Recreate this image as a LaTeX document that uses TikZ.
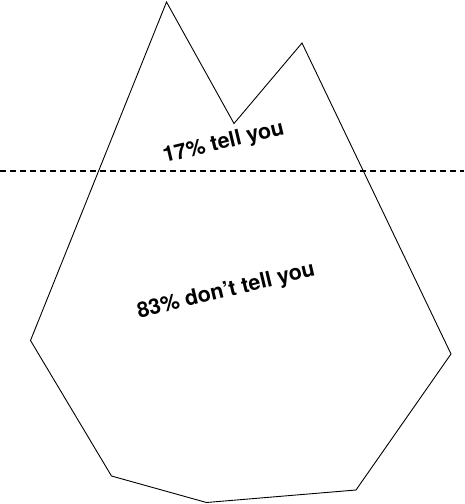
\documentclass[tikz,border=0pt]{standalone}
\usepackage{fontspec}
\setmainfont{TeX Gyre Heros}
\usepackage{tikz}
\tikzset{
  berg/.style={line width=0.9pt, black, line join=miter},
  water/.style={line width=1.1pt, black, dash pattern=on 6pt off 4pt},
  lbl/.style={font=\bfseries\fontsize{21.5}{24}\selectfont, anchor=base, rotate=13.5, inner sep=0pt},
}

\begin{document}
\begin{tikzpicture}[x=1pt,y=-1pt]
  \useasboundingbox (0,0) rectangle (464,504);
  % --- iceberg outline ---
  \coordinate (peakA) at (166.5,2);
  \coordinate (dip) at (234,123.5);
  \coordinate (peakB) at (302,43);
  \coordinate (rgt) at (451,354);
  \coordinate (botR) at (356,490);
  \coordinate (bot) at (206.5,502.5);
  \coordinate (botL) at (111.5,476);
  \coordinate (lft) at (30.5,340.5);
  \draw[berg] (peakA) -- (dip) -- (peakB) -- (rgt) -- (botR) -- (bot) -- (botL) -- (lft) -- cycle;
  % --- waterline ---
  \coordinate (wl) at (0,171);
  \coordinate (wr) at (464,171);
  \draw[water] (wl) -- (wr);
  % --- labels ---
  \node[lbl] (above) at (225,148.5) {17\% tell you};
  \node[lbl] (below) at (227.5,297) {83\% don’t tell you};
\end{tikzpicture}
\end{document}
